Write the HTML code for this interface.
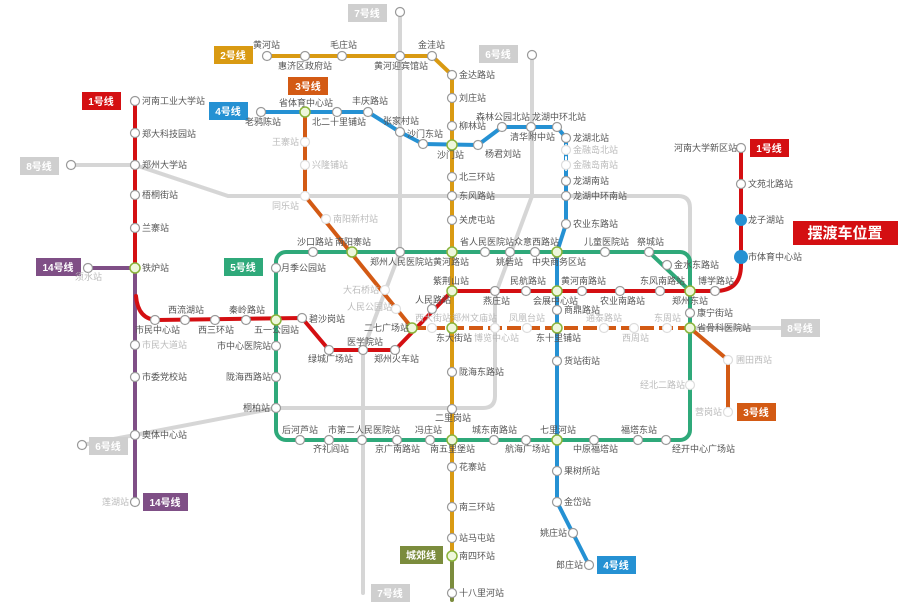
<!DOCTYPE html>
<html><head><meta charset="utf-8"><style>
body{margin:0;background:#fff;}
svg{display:block;font-family:"Liberation Sans","Noto Sans CJK SC",sans-serif;}
.t{font-size:9px;fill:#555;}
.g{font-size:9px;fill:#bbb;}
.lb{font-size:10px;font-weight:bold;fill:#fff;text-anchor:middle;}
</style></head><body>
<svg width="900" height="606" viewBox="0 0 900 606" xmlns="http://www.w3.org/2000/svg">
<g fill="none" stroke-linecap="round" stroke-linejoin="round">
<!-- grey lines -->
<path d="M71,165 L135,165 L228,196 L678,196 Q690,196 690,208 L690,328 L790,328" stroke="#d6d6d6" stroke-width="4"/>
<path d="M400,12 L400,252 L363,350 L363,593" stroke="#d6d6d6" stroke-width="4"/>
<path d="M532,55 L532,196 L497,290 L495,300 L495,396 Q495,408 483,408 L276,408 L135,435 L82,445" stroke="#d6d6d6" stroke-width="4"/>
<!-- 5 green -->
<rect x="276" y="252" width="414" height="188" rx="10" stroke="#2fa97a" stroke-width="4"/>
<path d="M649,252 L676,280" stroke="#fff" stroke-width="0"/>
<!-- 14 purple -->
<path d="M88,268 L135,268 L135,502" stroke="#7f4f86" stroke-width="4"/>
<!-- 1 red -->
<path d="M135,101 L135,268" stroke="#d40f12" stroke-width="4"/>
<path d="M136,296 Q138,320 158,320 L302,318 L329,350 L395,350 L452,291 L715,291 Q741,291 741,265 L741,148" stroke="#d40f12" stroke-width="4"/>
<!-- 2 gold -->
<path d="M267,56 L432,56 L452,75 L452,556" stroke="#d99a12" stroke-width="4"/>
<path d="M452,556 L452,600" stroke="#7b8c3d" stroke-width="4"/>
<!-- 3 orange -->
<path d="M305,112 L305,196 L412,328" stroke="#d35a14" stroke-width="4"/>
<path d="M412,328 L690,328" stroke="#d35a14" stroke-width="4" stroke-dasharray="14,5" stroke-linecap="butt"/>
<path d="M690,328 L728,360 L728,412" stroke="#d35a14" stroke-width="4"/>
<!-- 4 blue -->
<path d="M261,112 L368,112 L400,132 L423,144 L478,145 L502,127 L557,127 L566,138 L566,224 L557,252 L557,502 L589,565" stroke="#2591d3" stroke-width="4"/>
<path d="M566,145 L566,170" stroke="#fff" stroke-width="2" stroke-dasharray="3,3"/>
<!-- green diag overlay -->
<path d="M605,252 L649,252 L690,291" stroke="#2fa97a" stroke-width="4"/>
</g>
<rect x="650" y="240" width="45" height="40" fill="none"/>
<!-- stations -->
<g fill="#fff" stroke="#999" stroke-width="1.2">
<circle cx="135" cy="101" r="4.5"/><circle cx="135" cy="133" r="4.5"/><circle cx="135" cy="165" r="4.5"/><circle cx="135" cy="195" r="4.5"/><circle cx="135" cy="228" r="4.5"/>
<circle cx="88" cy="268" r="4.5"/><circle cx="135" cy="345" r="4.5"/><circle cx="135" cy="377" r="4.5"/><circle cx="135" cy="435" r="4.5"/><circle cx="135" cy="502" r="4.5"/><circle cx="71" cy="165" r="4.5"/><circle cx="82" cy="445" r="4.5"/>
<circle cx="155" cy="320" r="4.5"/><circle cx="185" cy="320" r="4.5"/><circle cx="215" cy="320" r="4.5"/><circle cx="246" cy="320" r="4.5"/><circle cx="302" cy="318" r="4.5"/>
<circle cx="329" cy="350" r="4.5"/><circle cx="363" cy="350" r="4.5"/><circle cx="395" cy="350" r="4.5"/><circle cx="432" cy="309" r="4.5"/>
<circle cx="495" cy="291" r="4.5"/><circle cx="526" cy="291" r="4.5"/><circle cx="582" cy="291" r="4.5"/><circle cx="620" cy="291" r="4.5"/><circle cx="660" cy="291" r="4.5"/><circle cx="715" cy="291" r="4.5"/>
<circle cx="741" cy="184" r="4.5"/><circle cx="741" cy="148" r="4.5"/>
<circle cx="267" cy="56" r="4.5"/><circle cx="305" cy="56" r="4.5"/><circle cx="342" cy="56" r="4.5"/><circle cx="400" cy="56" r="4.5"/><circle cx="432" cy="56" r="4.5"/><circle cx="400" cy="12" r="4.5"/><circle cx="532" cy="55" r="4.5"/>
<circle cx="452" cy="75" r="4.5"/><circle cx="452" cy="98" r="4.5"/><circle cx="452" cy="126" r="4.5"/><circle cx="452" cy="177" r="4.5"/><circle cx="452" cy="196" r="4.5"/><circle cx="452" cy="220" r="4.5"/><circle cx="452" cy="372" r="4.5"/><circle cx="452" cy="409" r="4.5"/><circle cx="452" cy="467" r="4.5"/><circle cx="452" cy="507" r="4.5"/><circle cx="452" cy="538" r="4.5"/><circle cx="452" cy="593" r="4.5"/>
<circle cx="261" cy="112" r="4.5"/><circle cx="337" cy="112" r="4.5"/><circle cx="368" cy="112" r="4.5"/><circle cx="400" cy="132" r="4.5"/><circle cx="423" cy="144" r="4.5"/><circle cx="478" cy="145" r="4.5"/><circle cx="502" cy="127" r="4.5"/><circle cx="531" cy="127" r="4.5"/><circle cx="557" cy="127" r="4.5"/><circle cx="566" cy="138" r="4.5"/><circle cx="566" cy="181" r="4.5"/><circle cx="566" cy="196" r="4.5"/><circle cx="566" cy="224" r="4.5"/>
<circle cx="557" cy="310" r="4.5"/><circle cx="557" cy="361" r="4.5"/><circle cx="557" cy="471" r="4.5"/><circle cx="557" cy="502" r="4.5"/><circle cx="573" cy="533" r="4.5"/><circle cx="589" cy="565" r="4.5"/>
<circle cx="305" cy="142" r="4.5" stroke="#ddd"/><circle cx="305" cy="165" r="4.5" stroke="#ddd"/><circle cx="305" cy="196" r="4.5" stroke="#ddd"/><circle cx="326" cy="219" r="4.5" stroke="#ddd"/><circle cx="385" cy="290" r="4.5" stroke="#ddd"/><circle cx="396" cy="309" r="4.5" stroke="#ddd"/>
<circle cx="432" cy="328" r="4.5" stroke="#ddd"/><circle cx="495" cy="328" r="4.5" stroke="#ddd"/><circle cx="527" cy="328" r="4.5" stroke="#ddd"/><circle cx="604" cy="328" r="4.5" stroke="#ddd"/><circle cx="634" cy="328" r="4.5" stroke="#ddd"/><circle cx="667" cy="328" r="4.5" stroke="#ddd"/><circle cx="728" cy="360" r="4.5" stroke="#ddd"/><circle cx="728" cy="412" r="4.5" stroke="#ddd"/><circle cx="790" cy="328" r="4.5" stroke="#ddd"/>
<circle cx="566" cy="150" r="4.5" stroke="#ddd"/><circle cx="566" cy="165" r="4.5" stroke="#ddd"/>
<circle cx="276" cy="268" r="4.5"/><circle cx="313" cy="252" r="4.5"/><circle cx="400" cy="252" r="4.5"/><circle cx="485" cy="252" r="4.5"/><circle cx="510" cy="252" r="4.5"/><circle cx="535" cy="252" r="4.5"/><circle cx="605" cy="252" r="4.5"/><circle cx="649" cy="252" r="4.5"/><circle cx="667" cy="265" r="4.5"/><circle cx="690" cy="313" r="4.5"/><circle cx="690" cy="385" r="4.5" stroke="#ddd"/>
<circle cx="666" cy="440" r="4.5"/><circle cx="638" cy="440" r="4.5"/><circle cx="594" cy="440" r="4.5"/><circle cx="526" cy="440" r="4.5"/><circle cx="494" cy="440" r="4.5"/><circle cx="430" cy="440" r="4.5"/><circle cx="397" cy="440" r="4.5"/><circle cx="362" cy="440" r="4.5"/><circle cx="329" cy="440" r="4.5"/><circle cx="300" cy="440" r="4.5"/>
<circle cx="276" cy="408" r="4.5"/><circle cx="276" cy="377" r="4.5"/><circle cx="276" cy="346" r="4.5"/>
</g>
<g fill="#eef7dc" stroke="#8ab43c" stroke-width="1.5">
<circle cx="135" cy="268" r="5"/><circle cx="276" cy="320" r="5"/><circle cx="412" cy="328" r="5"/><circle cx="452" cy="291" r="5"/><circle cx="557" cy="291" r="5"/><circle cx="690" cy="291" r="5"/><circle cx="305" cy="112" r="5"/><circle cx="452" cy="145" r="5"/><circle cx="352" cy="252" r="5"/><circle cx="452" cy="252" r="5"/><circle cx="557" cy="252" r="5"/><circle cx="452" cy="328" r="5"/><circle cx="557" cy="328" r="5"/><circle cx="690" cy="328" r="5"/><circle cx="452" cy="440" r="5"/><circle cx="557" cy="440" r="5"/><circle cx="452" cy="556" r="5"/>
</g>
<circle cx="741" cy="220" r="6" fill="#2591d3"/><circle cx="741" cy="257" r="7" fill="#2591d3"/>
<!-- line labels -->
<rect x="82" y="92" width="39" height="18" fill="#d40f12"/><text class="lb" x="101" y="105">1号线</text>
<rect x="750" y="139" width="39" height="18" fill="#d40f12"/><text class="lb" x="769" y="152">1号线</text>
<rect x="214" y="46" width="39" height="18" fill="#d99a12"/><text class="lb" x="233" y="59">2号线</text>
<rect x="288" y="77" width="40" height="18" fill="#d35a14"/><text class="lb" x="308" y="90">3号线</text>
<rect x="737" y="403" width="39" height="18" fill="#d35a14"/><text class="lb" x="756" y="416">3号线</text>
<rect x="209" y="102" width="39" height="18" fill="#2591d3"/><text class="lb" x="228" y="115">4号线</text>
<rect x="597" y="556" width="39" height="18" fill="#2591d3"/><text class="lb" x="616" y="569">4号线</text>
<rect x="224" y="258" width="39" height="18" fill="#2fa97a"/><text class="lb" x="243" y="271">5号线</text>
<rect x="479" y="45" width="39" height="18" fill="#cfcfcf"/><text class="lb" x="498" y="58">6号线</text>
<rect x="89" y="437" width="39" height="18" fill="#cfcfcf"/><text class="lb" x="108" y="450">6号线</text>
<rect x="348" y="4" width="39" height="18" fill="#cfcfcf"/><text class="lb" x="367" y="17">7号线</text>
<rect x="371" y="584" width="39" height="18" fill="#cfcfcf"/><text class="lb" x="390" y="597">7号线</text>
<rect x="20" y="157" width="39" height="18" fill="#cfcfcf"/><text class="lb" x="39" y="170">8号线</text>
<rect x="781" y="319" width="39" height="18" fill="#cfcfcf"/><text class="lb" x="800" y="332">8号线</text>
<rect x="36" y="258" width="45" height="18" fill="#7f4f86"/><text class="lb" x="58" y="271">14号线</text>
<rect x="143" y="493" width="45" height="18" fill="#7f4f86"/><text class="lb" x="165" y="506">14号线</text>
<rect x="400" y="546" width="43" height="18" fill="#7b8c3d"/><text class="lb" x="421" y="559">城郊线</text>
<rect x="793" y="221" width="105" height="24" fill="#d40f12"/><text x="845" y="238" text-anchor="middle" style="font-size:15px;font-weight:bold;fill:#fff">摆渡车位置</text>
<!-- station names -->
<g class="t">
<text x="142" y="104">河南工业大学站</text><text x="142" y="137">郑大科技园站</text><text x="142" y="168">郑州大学站</text><text x="142" y="198">梧桐街站</text><text x="142" y="231">兰寨站</text><text x="142" y="271">铁炉站</text>
<text x="142" y="380">市委党校站</text><text x="142" y="438">奥体中心站</text>
<text x="135" y="333">市民中心站</text><text x="168" y="313">西流湖站</text><text x="198" y="333">西三环站</text><text x="229" y="313">秦岭路站</text><text x="254" y="333">五一公园站</text><text x="309" y="322">碧沙岗站</text>
<text x="308" y="362">绿城广场站</text><text x="347" y="345">医学院站</text><text x="374" y="362">郑州火车站</text><text x="364" y="331">二七广场站</text><text x="415" y="303">人民路站</text><text x="433" y="284">紫荆山站</text>
<text x="483" y="304">燕庄站</text><text x="510" y="284">民航路站</text><text x="533" y="304">会展中心站</text><text x="561" y="284">黄河南路站</text><text x="600" y="304">农业南路站</text><text x="640" y="284">东风南路站</text><text x="672" y="304">郑州东站</text><text x="698" y="284">博学路站</text>
<text x="748" y="187">文苑北路站</text><text x="748" y="223">龙子湖站</text><text x="748" y="260">市体育中心站</text><text x="674" y="151">河南大学新区站</text>
<text x="253" y="48">黄河站</text><text x="278" y="69">惠济区政府站</text><text x="330" y="48">毛庄站</text><text x="374" y="69">黄河迎宾馆站</text><text x="418" y="48">金洼站</text>
<text x="459" y="78">金达路站</text><text x="459" y="101">刘庄站</text><text x="459" y="129">柳林站</text><text x="437" y="158">沙门站</text><text x="459" y="180">北三环站</text><text x="459" y="199">东风路站</text><text x="459" y="223">关虎屯站</text>
<text x="459" y="375">陇海东路站</text><text x="435" y="421">二里岗站</text><text x="459" y="470">花寨站</text><text x="459" y="510">南三环站</text><text x="459" y="541">站马屯站</text><text x="459" y="559">南四环站</text><text x="459" y="596">十八里河站</text>
<text x="245" y="125">老鸦陈站</text><text x="279" y="106">省体育中心站</text><text x="312" y="125">北二十里铺站</text><text x="352" y="104">丰庆路站</text><text x="383" y="124">张家村站</text><text x="407" y="137">沙门东站</text>
<text x="485" y="157">杨君刘站</text><text x="476" y="120">森林公园北站</text><text x="532" y="120">龙湖中环北站</text><text x="510" y="140">清华附中站</text>
<text x="573" y="141">龙湖北站</text><text x="573" y="184">龙湖南站</text><text x="573" y="199">龙湖中环南站</text><text x="573" y="227">农业东路站</text>
<text x="564" y="313">商鼎路站</text><text x="536" y="341">东十里铺站</text><text x="564" y="364">货站街站</text><text x="540" y="433">七里河站</text><text x="564" y="474">果树所站</text><text x="564" y="505">金岱站</text><text x="540" y="536">姚庄站</text><text x="556" y="568">郎庄站</text>
<text x="281" y="271">月季公园站</text><text x="297" y="245">沙口路站</text><text x="335" y="245">南阳寨站</text><text x="370" y="265">郑州人民医院站</text><text x="433" y="265">黄河路站</text><text x="460" y="245">省人民医院站</text><text x="496" y="265">姚砦站</text><text x="514" y="245">众意西路站</text><text x="532" y="265">中央商务区站</text><text x="584" y="245">儿童医院站</text><text x="637" y="245">祭城站</text><text x="674" y="268">金水东路站</text><text x="697" y="316">康宁街站</text><text x="697" y="331">省骨科医院站</text>
<text x="672" y="452">经开中心广场站</text><text x="621" y="433">福塔东站</text><text x="573" y="452">中原福塔站</text><text x="505" y="452">航海广场站</text><text x="472" y="433">城东南路站</text><text x="430" y="452">南五里堡站</text><text x="415" y="433">冯庄站</text><text x="375" y="452">京广南路站</text><text x="328" y="433">市第二人民医院站</text><text x="313" y="452">齐礼阎站</text><text x="282" y="433">后河芦站</text>
<text x="243" y="411">桐柏站</text><text x="226" y="380">陇海西路站</text><text x="217" y="349">市中心医院站</text>
<text x="436" y="341">东大街站</text>
</g>
<g class="g">
<text x="75" y="280">须水站</text><text x="142" y="348">市民大道站</text><text x="102" y="505">莲湖站</text>
<text x="272" y="145">王寨站</text><text x="312" y="168">兴隆铺站</text><text x="272" y="209">同乐站</text><text x="333" y="222">南阳新村站</text><text x="343" y="293">大石桥站</text><text x="347" y="310">人民公园站</text>
<text x="415" y="321">西大街站</text><text x="452" y="321">郑州文庙站</text><text x="474" y="341">博览中心站</text><text x="509" y="321">凤凰台站</text><text x="586" y="321">通泰路站</text><text x="622" y="341">西周站</text><text x="654" y="321">东周站</text>
<text x="736" y="363">圃田西站</text><text x="695" y="415">营岗站</text><text x="640" y="388">经北二路站</text>
<text x="573" y="153">金融岛北站</text><text x="573" y="168">金融岛南站</text>
</g>
</svg>
</body></html>
